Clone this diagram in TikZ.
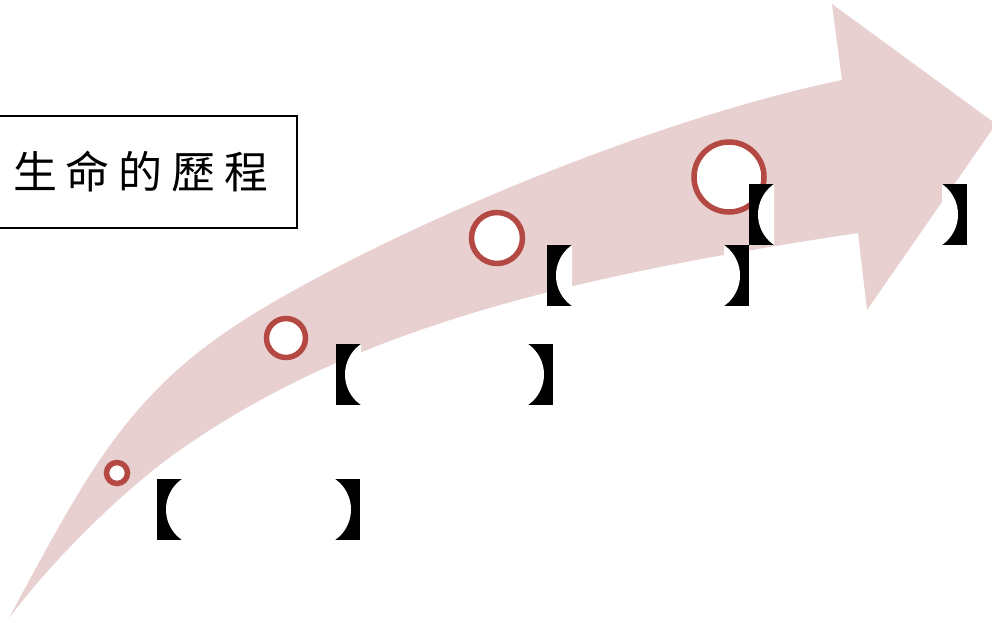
\documentclass[tikz,border=0pt]{standalone}
\usepackage{fontspec}
\newfontfamily\cjk{Noto Sans CJK TC}
\definecolor{bandc}{RGB}{232,207,208}
\definecolor{ringc}{RGB}{180,72,66}
\tikzset{
  ringnode/.style={circle, draw=ringc, line width=5.5pt, fill=white, inner sep=0pt, outer sep=0pt},
  titlebox/.style={draw=black, line width=1.4pt, minimum width=300pt, minimum height=112pt, inner sep=0pt,
    font=\cjk\fontsize{44pt}{48pt}\selectfont},
  lbr/.pic={
    \begin{scope}
      \clip (0,0) rectangle (25,61);
      \fill[black] (0,0) rectangle (25,61);
      \fill[white] (46.07,30.5) circle[radius=37.07pt];
    \end{scope}
  },
  rbr/.pic={
    \begin{scope}
      \clip (0,0) rectangle (25,61);
      \fill[black] (0,0) rectangle (25,61);
      \fill[white] (-21.07,30.5) circle[radius=37.07pt];
    \end{scope}
  }
}
\begin{document}
\begin{tikzpicture}[x=1pt,y=-1pt]
\useasboundingbox (0,0) rectangle (992,623);
% curved arrow
\fill[bandc] (9,618) .. controls (90,468) and (130,388) .. (260,310)
  .. controls (400,226) and (650,120) .. (842,80)
  -- (832,4) -- (996,124) -- (867,310) -- (858,233)
  .. controls (558,278) and (350,331) .. (180,450)
  .. controls (125,488.5) and (54,558) .. (9,618) -- cycle;
% rings
\node[ringnode, minimum size=21pt] (c1) at (117,473) {};
\node[ringnode, minimum size=39pt] (c2) at (286,338) {};
\node[ringnode, minimum size=51pt] (c3) at (497,238) {};
\node[ringnode, minimum size=70pt] (c4) at (729,177) {};
% brackets
\pic (p1l) at (157,479) {lbr};
\pic (p1r) at (335,479) {rbr};
\pic (p2l) at (336,344) {lbr};
\pic (p2r) at (528,344) {rbr};
\pic (p3l) at (547,245) {lbr};
\pic (p3r) at (724,245) {rbr};
\pic (p4l) at (749,184) {lbr};
\pic (p4r) at (942,184) {rbr};
% title
\node[titlebox] (title) at (147,172) {生\kern9pt命\kern9pt的\kern9pt歷\kern9pt程\kern12pt};
\end{tikzpicture}
\end{document}
